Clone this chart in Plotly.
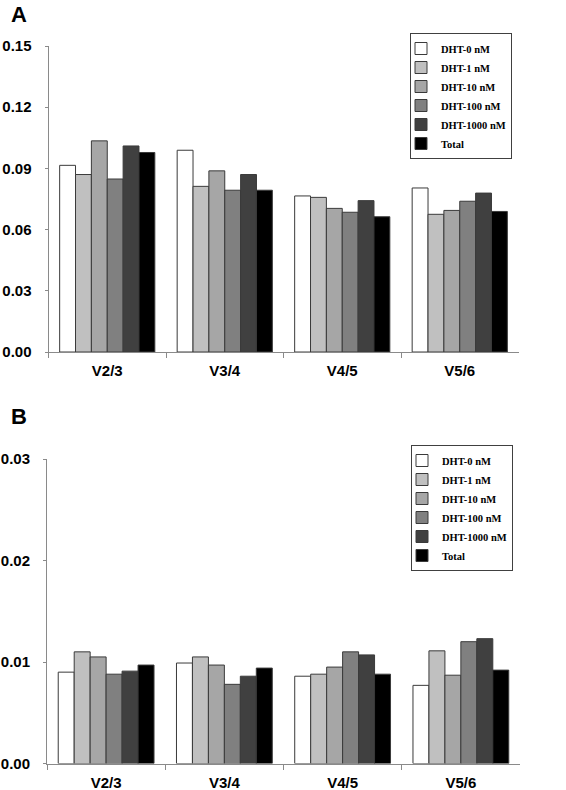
import plotly.graph_objects as go

categories = ["V2/3", "V3/4", "V4/5", "V5/6"]
series_names = ["DHT-0 nM", "DHT-1 nM", "DHT-10 nM", "DHT-100 nM", "DHT-1000 nM", "Total"]
series_colors = ["#ffffff", "#c0c0c0", "#a6a6a6", "#808080", "#404040", "#000000"]

# Panel A values
a_dht0 = [0.0915, 0.0989, 0.0765, 0.0804]
a_dht1 = [0.0870, 0.0812, 0.0758, 0.0675]
a_dht10 = [0.1035, 0.0888, 0.0704, 0.0694]
a_dht100 = [0.0848, 0.0793, 0.0685, 0.0739]
a_dht1000 = [0.1010, 0.0870, 0.0742, 0.0779]
a_total = [0.0978, 0.0793, 0.0663, 0.0689]

# Panel B values
b_dht0 = [0.0090, 0.0099, 0.0086, 0.0077]
b_dht1 = [0.0110, 0.0105, 0.0088, 0.0111]
b_dht10 = [0.0105, 0.0097, 0.0095, 0.0087]
b_dht100 = [0.0088, 0.0078, 0.0110, 0.0120]
b_dht1000 = [0.0091, 0.0086, 0.0107, 0.0123]
b_total = [0.0097, 0.0094, 0.0088, 0.0092]

a_ticks = [0.0, 0.03, 0.06, 0.09, 0.12, 0.15]
b_ticks = [0.0, 0.01, 0.02, 0.03]

a_series = [a_dht0, a_dht1, a_dht10, a_dht100, a_dht1000, a_total]
b_series = [b_dht0, b_dht1, b_dht10, b_dht100, b_dht1000, b_total]

W, H = 566, 790


def px_x(p):
    return p / W


def px_y(p):
    return 1 - p / H


fig = go.Figure()

for name, col, vals in zip(series_names, series_colors, a_series):
    fig.add_trace(go.Bar(x=categories, y=vals, name=name, xaxis="x", yaxis="y",
                         marker=dict(color=col, line=dict(color="#3a3a3a", width=1)),
                         legend="legend"))
for name, col, vals in zip(series_names, series_colors, b_series):
    fig.add_trace(go.Bar(x=categories, y=vals, name=name, xaxis="x2", yaxis="y2",
                         marker=dict(color=col, line=dict(color="#3a3a3a", width=1)),
                         legend="legend2"))

tickfont = dict(family="Liberation Sans, Arial", size=15, color="#000000", weight="bold")
legfont = dict(family="Liberation Serif, Times New Roman", size=10.5, color="#000000", weight="bold")

xcommon = dict(showline=True, linecolor="#8a8a8a", linewidth=1, ticks="outside",
               tickson="boundaries", ticklen=5, tickcolor="#8a8a8a", tickfont=tickfont,
               showgrid=False, zeroline=False, automargin=False, ticklabelstandoff=5)
ycommon = dict(showline=True, linecolor="#8a8a8a", linewidth=1, ticks="outside",
               ticklen=3, tickcolor="#8a8a8a", tickfont=tickfont, showgrid=False,
               zeroline=False, automargin=False, tickformat=".2f", ticklabelstandoff=10)

legcommon = dict(xanchor="right", yanchor="top", bordercolor="#404040", borderwidth=1,
                 bgcolor="white", font=legfont, itemwidth=30, tracegroupgap=0,
                 indentation=-10)

fig.update_layout(
    width=W, height=H,
    margin=dict(l=0, r=0, t=0, b=0),
    paper_bgcolor="white", plot_bgcolor="white",
    barmode="group", bargap=0.19, bargroupgap=0,
    xaxis=dict(domain=[px_x(48.5), px_x(518.5)], anchor="y", **xcommon),
    yaxis=dict(domain=[px_y(352), px_y(46)], range=[0, 0.15], tickvals=a_ticks,
               anchor="x", **ycommon),
    xaxis2=dict(domain=[px_x(47), px_x(520)], anchor="y2", **xcommon),
    yaxis2=dict(domain=[px_y(763.5), px_y(459)], range=[0, 0.03], tickvals=b_ticks,
                anchor="x2", **ycommon),
    legend=dict(x=px_x(512), y=px_y(33), **legcommon),
    legend2=dict(x=px_x(513), y=px_y(445), **legcommon),
    annotations=[
        dict(text="A", x=px_x(9), y=px_y(15), xref="paper", yref="paper", xanchor="left",
             yanchor="middle", showarrow=False,
             font=dict(family="Liberation Sans, Arial", size=22, color="black", weight="bold")),
        dict(text="B", x=px_x(9), y=px_y(416), xref="paper", yref="paper", xanchor="left",
             yanchor="middle", showarrow=False,
             font=dict(family="Liberation Sans, Arial", size=22, color="black", weight="bold")),
    ],
)

fig.write_html("out.html", config={"displayModeBar": False},
               post_script="document.body.style.margin='0';")
